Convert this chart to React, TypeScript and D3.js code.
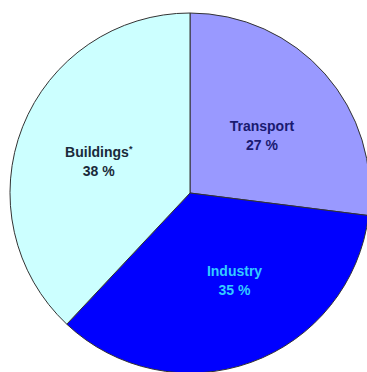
import React from "react";
import * as d3 from "d3";

const categories = ["Transport", "Industry", "Buildings"];
const footnoteMarks = ["", "", "*"];
const values = [27, 35, 38];
const colors = ["#9999ff", "#0000ff", "#ccffff"];
const labelColors = ["#1a1a70", "#33ccff", "#1a2a3a"];
const labelNudge: [number, number][] = [[0, 5], [12, -3], [-2, 3]];

export default function App() {
  const W = 367, H = 372;
  const cx = 190, cy = 193, r = 180;
  const pie = d3.pie<number>().sort(null).value((d) => d)(values);
  const arc = d3.arc<d3.PieArcDatum<number>>().innerRadius(0).outerRadius(r);
  const labelArc = d3.arc<d3.PieArcDatum<number>>().innerRadius(96).outerRadius(96);
  return (
    <svg width={W} height={H} style={{ position: "absolute", left: 0, top: 0, background: "#fff" }}>
      <g transform={`translate(${cx},${cy})`}>
        {pie.map((p, i) => (
          <path key={i} d={arc(p) || ""} fill={colors[i]} stroke="#333" strokeWidth={1} />
        ))}
        {pie.map((p, i) => {
          const [x0, y0] = labelArc.centroid(p);
          const x = x0 + labelNudge[i][0];
          const y = y0 + labelNudge[i][1];
          return (
            <text key={"t" + i} x={x} y={y} textAnchor="middle" fill={labelColors[i]}
              fontFamily="Liberation Sans, Arial, sans-serif" fontWeight="bold" fontSize={14}>
              <tspan x={x} dy={-4}>{categories[i]}{footnoteMarks[i] && (
                <tspan fontSize={9} dy={-5}>{footnoteMarks[i]}</tspan>
              )}</tspan>
              <tspan x={x} dy={footnoteMarks[i] ? 24 : 19}>{`${values[i]} %`}</tspan>
            </text>
          );
        })}
      </g>
    </svg>
  );
}
